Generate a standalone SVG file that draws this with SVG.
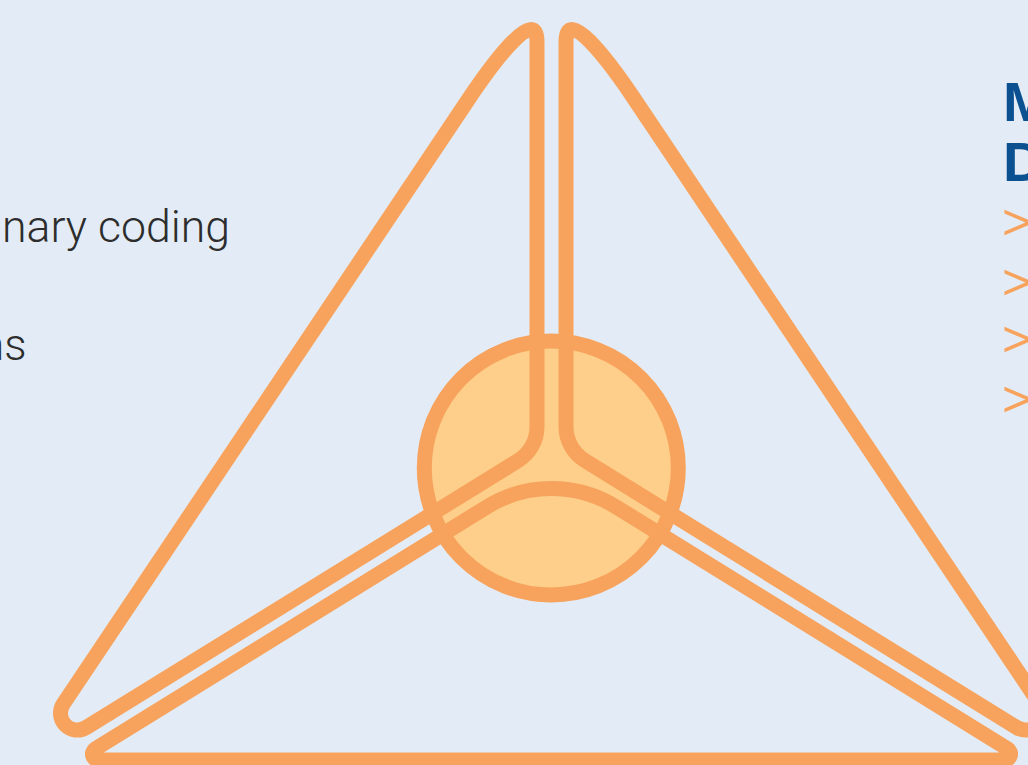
<svg xmlns="http://www.w3.org/2000/svg" width="1028" height="765" viewBox="0 0 1028 765">
<style>
.bg{fill:#E3ECF6}
.wedge{fill:none;stroke:#F7A35D;stroke-width:15;stroke-linejoin:round}
.hub{fill:#FDCF8A;stroke:#F7A35D;stroke-width:15}
.body{font-family:Roboto,'Liberation Sans',sans-serif;font-weight:300;font-size:44px;fill:#2D2D2D}
.head{font-family:'Liberation Sans',Arial,sans-serif;font-weight:700;font-size:56px;fill:#0B5091}
.bullet{font-family:'Liberation Sans',Arial,sans-serif;font-size:50px;fill:#F7A35D}
</style>
<rect class="bg" width="1028" height="765"/>
<g id="hub"><circle class="hub" cx="551.3" cy="468" r="127"/></g>
<g id="wedge-top-left"><path class="wedge" d="M537 42 L537 426.7 A40 40 0 0 1 518 460.7 L86.2 727.5 A16.8 16.8 0 0 1 63.4 703.8 L468 100 C495.8 58.5 537 5 537 42 Z"/></g>
<g id="wedge-top-right"><path class="wedge" d="M566 42 L566 426.7 A40 40 0 0 0 585 460.7 L1016.8 727.5 A16.8 16.8 0 0 0 1039.6 703.8 L635 100 C607.2 58.5 566 5 566 42 Z"/></g>
<g id="wedge-bottom"><path class="wedge" d="M487 506.8 A122.7 122.7 0 0 1 616 506.8 L1007.7 748.9 A6 6 0 0 1 1004.5 760 L98.5 760 A6 6 0 0 1 95.3 748.9 Z"/></g>
<g id="connectors"></g>
<g id="left-text">
<text class="body" x="2" y="242" textLength="228" lengthAdjust="spacingAndGlyphs">nary coding</text>
<text class="body" x="-20" y="359.5">ns</text>
</g>
<g id="right-text">
<text class="head" x="1003" y="121">M</text>
<text class="head" x="1003" y="181">D</text>
<text class="bullet" x="1002" y="239">&gt;</text>
<text class="bullet" x="1002" y="299">&gt;</text>
<text class="bullet" x="1002" y="356">&gt;</text>
<text class="bullet" x="1002" y="416">&gt;</text>
</g>
</svg>
